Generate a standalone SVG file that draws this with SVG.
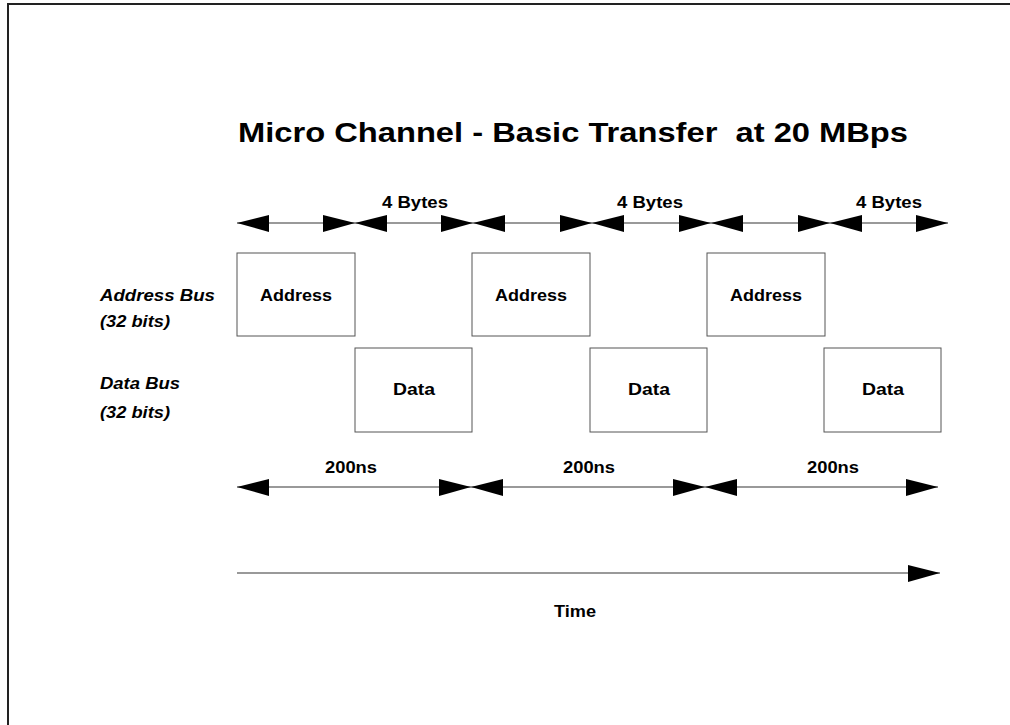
<svg xmlns="http://www.w3.org/2000/svg" width="1010" height="725" viewBox="0 0 1010 725">
<style>
text{font-family:"Liberation Sans",Arial,sans-serif;font-weight:bold;fill:#000}
.t{font-size:28px}
.l{font-size:16px;text-anchor:middle}
.b{font-size:16px;text-anchor:middle}
.i{font-size:16px;font-style:italic}
.box{fill:#fff;stroke:#555;stroke-width:1}
.ln{stroke:#777;stroke-width:1.5;fill:none}
.hd{fill:#000}
</style>
<rect x="8" y="4" width="1100" height="800" fill="none" stroke="#222" stroke-width="2"/>
<text class="t" x="238" y="142" textLength="670" lengthAdjust="spacingAndGlyphs" xml:space="preserve">Micro Channel - Basic Transfer  at 20 MBps</text>
<g id="connectors">
<line class="ln" x1="237" y1="223" x2="948" y2="223"/>
<g class="hd">
<polygon points="237,223 269,215 269,232"/>
<polygon points="355,223 323,215 323,232"/>
<polygon points="355,223 387,215 387,232"/>
<polygon points="473,223 441,215 441,232"/>
<polygon points="473,223 505,215 505,232"/>
<polygon points="592,223 560,215 560,232"/>
<polygon points="592,223 624,215 624,232"/>
<polygon points="711,223 679,215 679,232"/>
<polygon points="711,223 743,215 743,232"/>
<polygon points="830,223 798,215 798,232"/>
<polygon points="830,223 862,215 862,232"/>
<polygon points="948,223 916,215 916,232"/>
</g>
<line class="ln" x1="237" y1="487" x2="938" y2="487"/>
<g class="hd">
<polygon points="237,487 269,479 269,496"/>
<polygon points="471,487 439,479 439,496"/>
<polygon points="471,487 503,479 503,496"/>
<polygon points="705,487 673,479 673,496"/>
<polygon points="705,487 737,479 737,496"/>
<polygon points="938,487 906,479 906,496"/>
</g>
<line class="ln" x1="237" y1="573" x2="940" y2="573"/>
<polygon class="hd" points="940,573 908,565 908,582"/>
</g>
<text class="l" x="415" y="208" textLength="66" lengthAdjust="spacingAndGlyphs">4 Bytes</text>
<text class="l" x="650" y="208" textLength="66" lengthAdjust="spacingAndGlyphs">4 Bytes</text>
<text class="l" x="889" y="208" textLength="66" lengthAdjust="spacingAndGlyphs">4 Bytes</text>
<text class="l" x="351" y="473" textLength="52" lengthAdjust="spacingAndGlyphs">200ns</text>
<text class="l" x="589" y="473" textLength="52" lengthAdjust="spacingAndGlyphs">200ns</text>
<text class="l" x="833" y="473" textLength="52" lengthAdjust="spacingAndGlyphs">200ns</text>
<text class="b" x="575" y="617" textLength="42" lengthAdjust="spacingAndGlyphs">Time</text>
<g id="labels">
<text class="i" x="100" y="301" textLength="115" lengthAdjust="spacingAndGlyphs">Address Bus</text>
<text class="i" x="100" y="327" textLength="70" lengthAdjust="spacingAndGlyphs">(32 bits)</text>
<text class="i" x="100" y="389" textLength="80" lengthAdjust="spacingAndGlyphs">Data Bus</text>
<text class="i" x="100" y="418" textLength="70" lengthAdjust="spacingAndGlyphs">(32 bits)</text>
</g>
<g id="addr1"><rect class="box" x="237" y="253" width="118" height="83"/><text class="b" x="296" y="301" textLength="72" lengthAdjust="spacingAndGlyphs">Address</text></g>
<g id="addr2"><rect class="box" x="472" y="253" width="118" height="83"/><text class="b" x="531" y="301" textLength="72" lengthAdjust="spacingAndGlyphs">Address</text></g>
<g id="addr3"><rect class="box" x="707" y="253" width="118" height="83"/><text class="b" x="766" y="301" textLength="72" lengthAdjust="spacingAndGlyphs">Address</text></g>
<g id="data1"><rect class="box" x="355" y="348" width="117" height="84"/><text class="b" x="414" y="395" textLength="42" lengthAdjust="spacingAndGlyphs">Data</text></g>
<g id="data2"><rect class="box" x="590" y="348" width="117" height="84"/><text class="b" x="649" y="395" textLength="42" lengthAdjust="spacingAndGlyphs">Data</text></g>
<g id="data3"><rect class="box" x="824" y="348" width="117" height="84"/><text class="b" x="883" y="395" textLength="42" lengthAdjust="spacingAndGlyphs">Data</text></g>
</svg>
